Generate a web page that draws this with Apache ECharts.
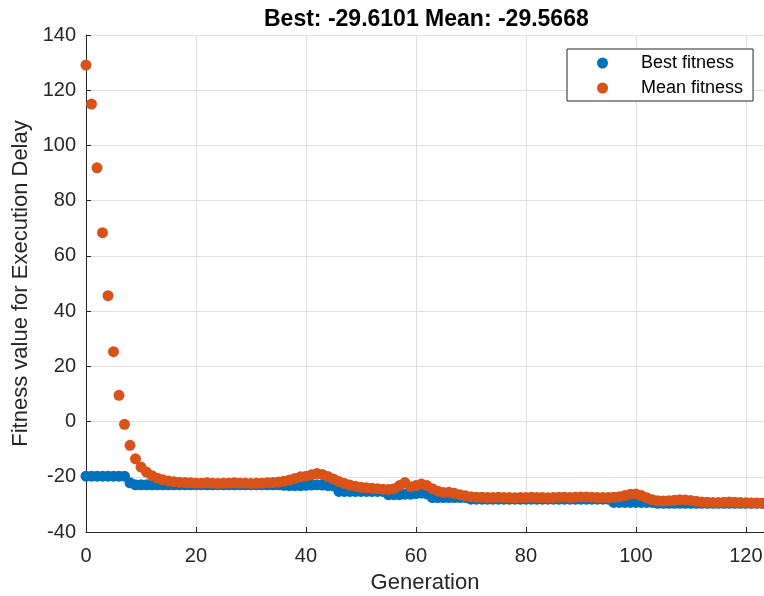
<!DOCTYPE html>
<html>
<head>
<meta charset="utf-8">
<script src="https://cdn.jsdelivr.net/npm/echarts@6/dist/echarts.min.js"></script>
<style>
    html, body { margin: 0; padding: 0; background: #fff; }
    #chart { width: 764px; height: 596px; }
</style>
</head>
<body>
<div id="chart"></div>
<script>
// mean fitness per generation (0..123)
const meanFitness = [
    129.1, 115.0, 91.9, 68.4, 45.6, 25.3, 9.5, -1.0, -8.6, -13.5,
    -16.5, -18.3, -19.6, -20.5, -21.1, -21.5, -21.8, -22.0, -22.1, -22.2,
    -22.3, -22.3, -22.2, -22.3, -22.4, -22.3, -22.3, -22.2, -22.3, -22.3,
    -22.4, -22.3, -22.3, -22.2, -22.1, -21.9, -21.6, -21.2, -20.6, -20.0,
    -19.8, -19.3, -18.8, -19.2, -19.9, -20.8, -21.7, -22.4, -23.0, -23.4,
    -23.8, -24.0, -24.2, -24.3, -24.5, -24.6, -24.3, -23.2, -22.1, -23.6,
    -23.2, -22.6, -23.2, -24.3, -25.2, -25.7, -25.6, -26.0, -26.5, -26.9,
    -27.2, -27.4, -27.4, -27.5, -27.5, -27.4, -27.5, -27.5, -27.6, -27.5,
    -27.5, -27.4, -27.5, -27.5, -27.6, -27.5, -27.4, -27.4, -27.5, -27.4,
    -27.3, -27.3, -27.4, -27.5, -27.5, -27.5, -27.4, -27.2, -26.8, -26.3,
    -26.2, -26.8, -27.6, -28.3, -28.7, -28.8, -28.7, -28.5, -28.3, -28.4,
    -28.6, -28.9, -29.1, -29.2, -29.3, -29.3, -29.2, -29.1, -29.2, -29.3,
    -29.4, -29.5, -29.53, -29.5668
];

// best fitness per generation (0..123)
const bestFitness = [
    -19.8, -19.8, -19.8, -19.8, -19.8, -19.8, -19.8, -19.8, -22.2, -22.9,
    -22.9, -22.9, -22.9, -22.9, -22.9, -22.9, -22.9, -22.9, -22.9, -22.9,
    -22.9, -22.9, -22.9, -22.9, -22.9, -22.9, -22.9, -22.9, -22.9, -22.9,
    -22.9, -22.9, -22.9, -22.9, -22.9, -22.9, -23.1, -23.2, -23.2, -23.2,
    -23.1, -23.0, -22.9, -23.0, -23.2, -23.3, -25.3, -25.3, -25.3, -25.3,
    -25.3, -25.3, -25.3, -25.3, -25.3, -26.5, -26.5, -26.5, -26.3, -26.3,
    -26.1, -25.9, -26.2, -27.5, -27.5, -27.5, -27.5, -27.5, -27.5, -27.5,
    -28.1, -28.1, -28.1, -28.1, -28.1, -28.1, -28.1, -28.1, -28.1, -28.1,
    -28.1, -28.1, -28.1, -28.1, -28.1, -28.1, -28.1, -28.1, -28.1, -28.1,
    -28.1, -28.1, -28.1, -28.1, -28.1, -28.1, -29.3, -29.3, -29.3, -29.3,
    -29.3, -29.3, -29.3, -29.3, -29.6101, -29.6101, -29.6101, -29.6101, -29.6101, -29.6101,
    -29.6101, -29.6101, -29.6101, -29.6101, -29.6101, -29.6101, -29.6101, -29.6101, -29.6101, -29.6101,
    -29.6101, -29.6101, -29.6101, -29.6101
];

const seriesNames = ['Best fitness', 'Mean fitness'];
const titleText = 'Best: -29.6101 Mean: -29.5668';

const fontFamily = '"Liberation Sans", Arial, sans-serif';
const axisColor = '#262626';

let chart = echarts.init(document.getElementById('chart'), null, { renderer: 'canvas' });

let option = {
    animation: false,
    backgroundColor: '#fff',
    title: {
        text: titleText,
        left: 264,
        top: 8,
        padding: 0,
        textStyle: { fontFamily, fontSize: 23, fontWeight: 'bold', color: '#000' }
    },
    legend: {
        data: seriesNames,
        orient: 'vertical',
        left: 567,
        top: 49,
        padding: [4, 10, 3, 30],
        itemGap: 5,
        itemWidth: 11,
        itemHeight: 11,
        icon: 'circle',
        backgroundColor: '#fff',
        borderColor: axisColor,
        borderWidth: 1,
        borderRadius: 0,
        textStyle: { fontFamily, fontSize: 18, lineHeight: 20, color: '#000', padding: [0, 0, 0, 28] }
    },
    grid: { left: 86, top: 35, right: 0, bottom: 64, containLabel: false, outerBoundsMode: 'none' },
    xAxis: {
        type: 'value',
        min: 0,
        max: 123.3,
        interval: 20,
        name: 'Generation',
        nameLocation: 'middle',
        nameGap: 40,
        nameTextStyle: { fontFamily, fontSize: 22, color: axisColor },
        axisLine: { show: true, onZero: false, lineStyle: { color: axisColor, width: 1 } },
        axisTick: { show: true, inside: true, length: 5, lineStyle: { color: axisColor } },
        axisLabel: {
            fontFamily, fontSize: 20, color: axisColor, margin: 14,
            formatter: v => (v % 20 === 0 ? String(v) : '')
        },
        splitLine: { show: true, lineStyle: { color: '#e0e0e0', width: 1 } }
    },
    yAxis: {
        type: 'value',
        min: -40,
        max: 140,
        interval: 20,
        name: 'Fitness value for Execution Delay',
        nameLocation: 'middle',
        nameGap: 50,
        nameTextStyle: { fontFamily, fontSize: 22, color: axisColor },
        axisLine: { show: true, onZero: false, lineStyle: { color: axisColor, width: 1 } },
        axisTick: { show: true, inside: true, length: 5, lineStyle: { color: axisColor } },
        axisLabel: { fontFamily, fontSize: 20, color: axisColor, margin: 10, padding: [8, 0, 0, 0] },
        splitLine: { show: true, lineStyle: { color: '#e0e0e0', width: 1 } }
    },
    series: [
        {
            name: seriesNames[0],
            type: 'scatter',
            symbol: 'circle',
            symbolSize: 11,
            itemStyle: { color: '#0072BD', opacity: 1 },
            data: bestFitness.map((v, i) => [i, v])
        },
        {
            name: seriesNames[1],
            type: 'scatter',
            symbol: 'circle',
            symbolSize: 11,
            itemStyle: { color: '#D95319', opacity: 1 },
            data: meanFitness.map((v, i) => [i, v])
        }
    ]
};

chart.setOption(option);
</script>
</body>
</html>
